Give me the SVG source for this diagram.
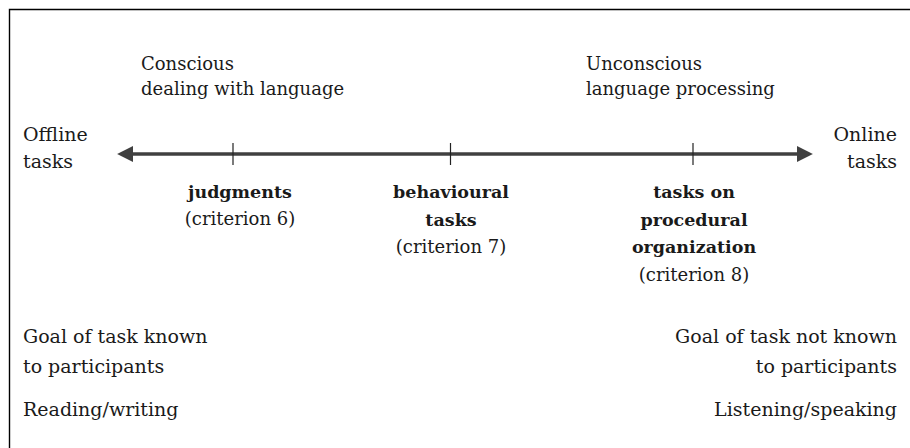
<svg xmlns="http://www.w3.org/2000/svg" width="910" height="448" viewBox="0 0 910 448">
  <style>
    text { font-family: "DejaVu Serif", "Liberation Serif", serif; font-size: 18px; fill: #1a1a1a; }
    .b { font-weight: bold; font-size: 17.5px; }
    .c { text-anchor: middle; }
    .e { text-anchor: end; }
    .l { font-size: 19px; }
    .frame { stroke: #000; stroke-width: 1.4; fill: none; }
    .axis { stroke: #404040; stroke-width: 3.5; fill: none; }
    .tick { stroke: #222; stroke-width: 1.2; }
  </style>
  <defs>
    <marker id="ah" viewBox="0 0 10 10" refX="2" refY="5" markerWidth="4.6" markerHeight="4.6" orient="auto-start-reverse" markerUnits="strokeWidth">
      <path d="M0,0 L10,5 L0,10 Z" fill="#404040"/>
    </marker>
  </defs>
  <rect width="910" height="448" fill="#fff"/>
  <path class="frame" d="M9.5,448 V9.5 H910"/>

  <g id="connectors">
    <line class="axis" x1="130" y1="154" x2="800" y2="154" marker-start="url(#ah)" marker-end="url(#ah)"/>
    <line class="tick" x1="233" y1="143" x2="233" y2="165"/>
    <line class="tick" x1="450.5" y1="143" x2="450.5" y2="165"/>
    <line class="tick" x1="693" y1="143" x2="693" y2="165"/>
  </g>

  <g id="conscious">
    <text x="141" y="70">Conscious</text>
    <text x="141" y="95">dealing with language</text>
  </g>
  <g id="unconscious">
    <text x="586" y="70">Unconscious</text>
    <text x="586" y="95">language processing</text>
  </g>
  <g id="offline">
    <text class="l" x="23" y="141">Offline</text>
    <text class="l" x="23" y="168">tasks</text>
  </g>
  <g id="online">
    <text class="l e" x="897" y="141">Online</text>
    <text class="l e" x="897" y="168">tasks</text>
  </g>
  <g id="judgments">
    <text class="b c" x="240" y="198">judgments</text>
    <text class="c" x="240" y="225">(criterion 6)</text>
  </g>
  <g id="behavioural">
    <text class="b c" x="451" y="198">behavioural</text>
    <text class="b c" x="451" y="225.5">tasks</text>
    <text class="c" x="451" y="253">(criterion 7)</text>
  </g>
  <g id="procedural">
    <text class="b c" x="694" y="198">tasks on</text>
    <text class="b c" x="694" y="225.5">procedural</text>
    <text class="b c" x="694" y="253">organization</text>
    <text class="c" x="694" y="280.5">(criterion 8)</text>
  </g>
  <g id="goal-known">
    <text class="l" x="23" y="343">Goal of task known</text>
    <text class="l" x="23" y="373">to participants</text>
  </g>
  <g id="reading">
    <text class="l" x="23" y="416">Reading/writing</text>
  </g>
  <g id="goal-unknown">
    <text class="l e" x="897" y="343">Goal of task not known</text>
    <text class="l e" x="897" y="373">to participants</text>
  </g>
  <g id="listening">
    <text class="l e" x="897" y="416">Listening/speaking</text>
  </g>
</svg>
